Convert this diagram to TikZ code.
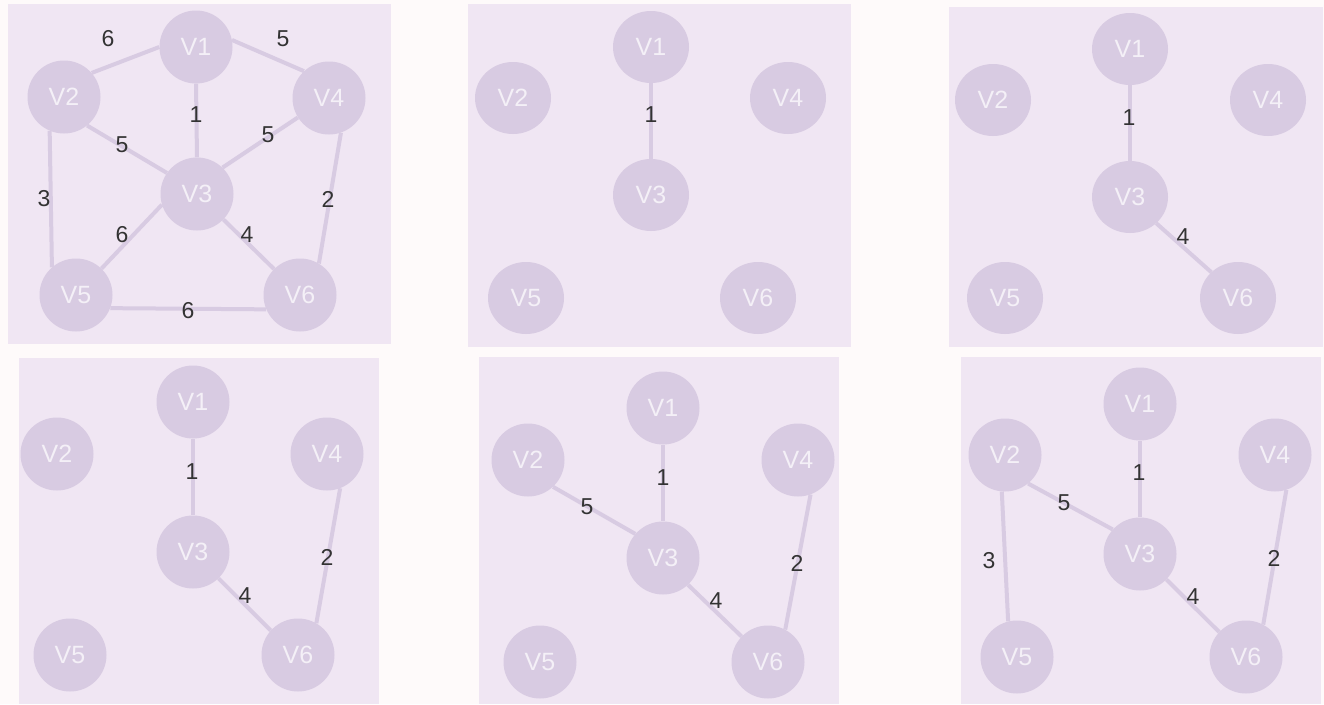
\documentclass[tikz,border=0pt]{standalone}
\usepackage{fontspec}
\setmainfont{Liberation Sans}
\usetikzlibrary{shapes.geometric}
\definecolor{pagebg}{HTML}{FEFAFA}
\definecolor{panelbg}{HTML}{F0E6F3}
\definecolor{nodefill}{HTML}{D8CBE2}
\definecolor{nodetext}{HTML}{F4F0F7}
\definecolor{labeltext}{HTML}{333333}
\tikzset{
  vert/.style={circle, fill=nodefill, draw=none, minimum size=73pt, inner sep=0pt, text=nodetext, font=\fontsize{25}{25}\selectfont},
  vertE/.style={ellipse, fill=nodefill, draw=none, minimum width=76pt, minimum height=72pt, inner sep=0pt, text=nodetext, font=\fontsize{25}{25}\selectfont},
  edge/.style={draw=nodefill, line width=4pt},
  wlab/.style={text=labeltext, font=\fontsize{23}{23}\selectfont, inner sep=0pt},
  panel/.style={fill=panelbg, draw=none}
}
\begin{document}
\begin{tikzpicture}[x=1pt,y=-1pt]
\useasboundingbox (0,0) rectangle (1324,704);
\fill[pagebg] (0,0) rectangle (1324,704);
% panels
\fill[panel] (8,4) rectangle (391,344);
\fill[panel] (468,4) rectangle (851,347);
\fill[panel] (949,7) rectangle (1323,347);
\fill[panel] (19,358) rectangle (379,704);
\fill[panel] (479,357) rectangle (839,704);
\fill[panel] (961,357) rectangle (1321,704);

% ---------- panel 1 ----------
\node[vert] (a1) at (196,47) {V1};
\node[vert] (a2) at (64,97) {V2};
\node[vert] (a3) at (197,194) {V3};
\node[vert] (a4) at (329,98) {V4};
\node[vert] (a5) at (76,295) {V5};
\node[vert] (a6) at (300,295) {V6};
\draw[edge] (a2.41) -- (a1.180);
\draw[edge] (a1.11) -- (a4.133);
\draw[edge] (a1.-90) -- (a3.90);
\draw[edge] (a2.-51) -- (a3.145);
\draw[edge] (a4.-148) -- (a3.46);
\draw[edge] (a2.247) -- (a5.131);
\draw[edge] (a4.-71) -- (a6.59);
\draw[edge] (a3.197) -- (a5.46);
\draw[edge] (a3.-44) -- (a6.135);
\draw[edge] (a5.-21) -- (a6.-157);
\node[wlab] (a-l21) at (108,39) {6};
\node[wlab] (a-l14) at (283,39) {5};
\node[wlab] (a-l13) at (196,115) {1};
\node[wlab] (a-l23) at (122,145) {5};
\node[wlab] (a-l43) at (268,135) {5};
\node[wlab] (a-l25) at (44,199) {3};
\node[wlab] (a-l46) at (328,199) {2};
\node[wlab] (a-l35) at (122,235) {6};
\node[wlab] (a-l36) at (247,235) {4};
\node[wlab] (a-l56) at (188,311) {6};

% ---------- panel 2 ----------
\node[vertE] (b1) at (651,47) {V1};
\node[vertE] (b2) at (513,98) {V2};
\node[vertE] (b3) at (651,195) {V3};
\node[vertE] (b4) at (788,98) {V4};
\node[vertE] (b5) at (526,298) {V5};
\node[vertE] (b6) at (758,298) {V6};
\draw[edge] (b1.-90) -- (b3.90);
\node[wlab] (b-l13) at (651,115) {1};

% ---------- panel 3 ----------
\node[vertE] (c1) at (1130,49) {V1};
\node[vertE] (c2) at (993,100) {V2};
\node[vertE] (c3) at (1130,197) {V3};
\node[vertE] (c4) at (1268,100) {V4};
\node[vertE] (c5) at (1005,298) {V5};
\node[vertE] (c6) at (1238,298) {V6};
\draw[edge] (c1.-90) -- (c3.90);
\draw[edge] (c3.-45) -- (c6.136);
\node[wlab] (c-l13) at (1129,118) {1};
\node[wlab] (c-l36) at (1183,237) {4};

% ---------- panel 4 ----------
\node[vert] (d1) at (193,402) {V1};
\node[vert] (d2) at (57,454) {V2};
\node[vert] (d3) at (193,552) {V3};
\node[vert] (d4) at (327,454) {V4};
\node[vert] (d5) at (70,655) {V5};
\node[vert] (d6) at (298,655) {V6};
\draw[edge] (d1.-90) -- (d3.90);
\draw[edge] (d3.-46) -- (d6.138);
\draw[edge] (d4.-69) -- (d6.60);
\node[wlab] (d-l13) at (192,472) {1};
\node[wlab] (d-l36) at (245,596) {4};
\node[wlab] (d-l46) at (327,557) {2};

% ---------- panel 5 ----------
\node[vert] (e1) at (663,408) {V1};
\node[vert] (e2) at (528,460) {V2};
\node[vert] (e3) at (663,558) {V3};
\node[vert] (e4) at (798,460) {V4};
\node[vert] (e5) at (540,662) {V5};
\node[vert] (e6) at (768,662) {V6};
\draw[edge] (e1.-90) -- (e3.90);
\draw[edge] (e2.-47) -- (e3.139);
\draw[edge] (e3.-47) -- (e6.136);
\draw[edge] (e4.-70) -- (e6.62);
\node[wlab] (e-l13) at (663,478) {1};
\node[wlab] (e-l23) at (587,507) {5};
\node[wlab] (e-l36) at (716,601) {4};
\node[wlab] (e-l46) at (797,563) {2};

% ---------- panel 6 ----------
\node[vert] (f1) at (1140,404) {V1};
\node[vert] (f2) at (1005,455) {V2};
\node[vert] (f3) at (1140,554) {V3};
\node[vert] (f4) at (1275,455) {V4};
\node[vert] (f5) at (1017,657) {V5};
\node[vert] (f6) at (1246,657) {V6};
\draw[edge] (f1.-90) -- (f3.90);
\draw[edge] (f2.-51) -- (f3.138);
\draw[edge] (f2.-95) -- (f5.104);
\draw[edge] (f3.-44) -- (f6.137);
\draw[edge] (f4.-72) -- (f6.62);
\node[wlab] (f-l13) at (1139,473) {1};
\node[wlab] (f-l23) at (1064,503) {5};
\node[wlab] (f-l25) at (989,561) {3};
\node[wlab] (f-l36) at (1193,597) {4};
\node[wlab] (f-l46) at (1274,558) {2};
\end{tikzpicture}
\end{document}
